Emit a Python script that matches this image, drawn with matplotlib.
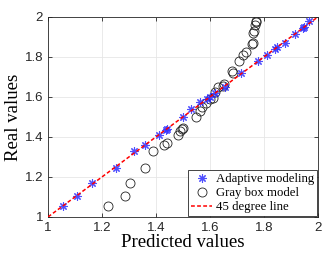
import numpy as np
import matplotlib.pyplot as plt

# Adaptive modeling (blue asterisks)
adapt_pred = [1.056, 1.107, 1.163, 1.25, 1.32, 1.36, 1.41, 1.437, 1.44, 1.50, 1.53,
              1.563, 1.59, 1.60, 1.62, 1.655, 1.715, 1.777, 1.81, 1.843, 1.85, 1.88,
              1.915, 1.944, 1.947, 1.967]
adapt_real = [1.055, 1.105, 1.17, 1.245, 1.33, 1.36, 1.41, 1.435, 1.44, 1.50, 1.54,
              1.575, 1.59, 1.60, 1.62, 1.65, 1.72, 1.78, 1.81, 1.84, 1.85, 1.87,
              1.915, 1.945, 1.95, 1.98]

# Gray box model (black circles)
gray_pred = [1.222, 1.285, 1.305, 1.36, 1.39, 1.43, 1.44, 1.48, 1.49, 1.497, 1.50,
             1.55, 1.563, 1.57, 1.585, 1.60, 1.61, 1.62, 1.63, 1.65, 1.652, 1.68,
             1.686, 1.707, 1.723, 1.733, 1.755, 1.76, 1.76, 1.762, 1.767, 1.77, 1.772]
gray_real = [1.055, 1.105, 1.17, 1.245, 1.33, 1.36, 1.37, 1.41, 1.43, 1.44, 1.445,
             1.50, 1.53, 1.55, 1.57, 1.59, 1.595, 1.625, 1.65, 1.655, 1.665, 1.73,
             1.72, 1.78, 1.81, 1.825, 1.865, 1.87, 1.92, 1.93, 1.96, 1.975, 1.98]

line_x = [1, 2]

serif = 'Liberation Serif'

fig = plt.figure(figsize=(3.36, 2.57), dpi=100)
ax = fig.add_axes([0.143, 0.156, 0.803, 0.778])

ax.plot(adapt_pred, adapt_real, linestyle='none', marker=(8, 2, 0), markersize=6,
        color='#3030ff', markeredgewidth=0.8, alpha=0.85, label='Adaptive modeling', zorder=3)
ax.plot(gray_pred, gray_real, linestyle='none', marker='o', markersize=6.5,
        markerfacecolor='none', markeredgecolor='#222222', markeredgewidth=0.6,
        label='Gray box model', zorder=2)
ax.plot(line_x, line_x, linestyle='--', color='#ff0000', linewidth=1.1,
        dashes=(2.5, 1.5), label='45 degree line', zorder=4)

ax.set_xlim(1, 2)
ax.set_ylim(1, 2)
ax.set_xticks([1, 1.2, 1.4, 1.6, 1.8, 2])
ax.set_yticks([1, 1.2, 1.4, 1.6, 1.8, 2])
ax.set_xticklabels(['1', '1.2', '1.4', '1.6', '1.8', '2'], family='Liberation Sans')
ax.set_yticklabels(['1', '1.2', '1.4', '1.6', '1.8', '2'], family='Liberation Sans')
ax.tick_params(direction='in', length=3, width=0.6, labelsize=9.5, colors='#262626',
               top=True, right=True)
ax.grid(True, color='#e6e6e6', linewidth=0.6)
ax.set_axisbelow(True)
for s in ax.spines.values():
    s.set_linewidth(0.6)
    s.set_color('#262626')

ax.set_xlabel('Predicted values', fontsize=13.5, family=serif, labelpad=0)
ax.set_ylabel('Real values', fontsize=13.5, family=serif, labelpad=2)

leg = ax.legend(loc='lower right', prop={'family': serif, 'size': 9.2},
                fancybox=False, framealpha=1, edgecolor='#262626',
                borderaxespad=0.05, handlelength=1.6, handletextpad=0.3,
                labelspacing=0.15, borderpad=0.25)
leg.get_frame().set_linewidth(0.6)

fig.savefig('out.png', dpi=100)
